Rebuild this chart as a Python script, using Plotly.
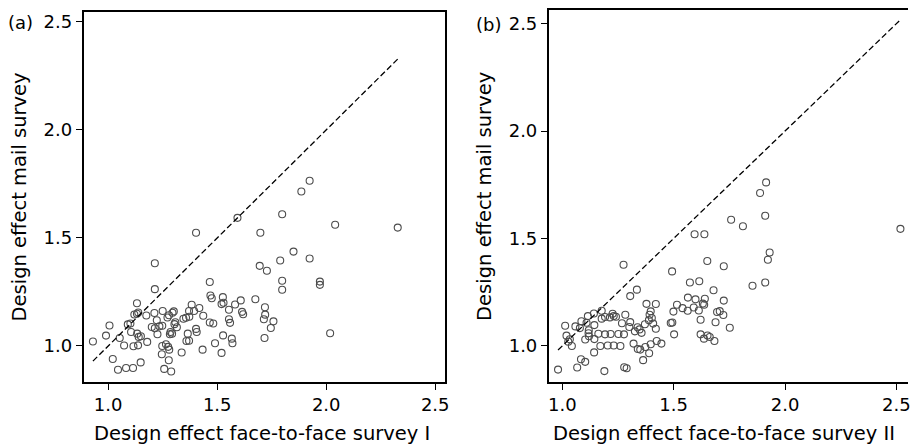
import plotly.graph_objects as go

# Panel (a): face-to-face survey I vs mail survey
xa = [1.593,1.403,1.698,1.214,1.695,1.728,1.466,1.214,1.469,1.475,1.526,1.608,1.675,1.529,1.520,1.582,
      1.132,1.383,1.418,1.371,1.394,1.554,1.301,1.295,1.250,1.212,1.120,1.138,1.175,1.279,1.272,1.357,
      1.372,1.345,1.436,1.614,1.619,1.719,1.714,1.720,1.554,1.559,1.466,1.482,1.403,1.406,1.308,1.304,
      1.315,1.286,1.283,1.293,1.223,1.200,1.214,1.235,1.226,1.248,1.102,1.090,1.132,1.006,0.990,1.053,
      1.105,1.133,1.140,1.150,1.073,1.116,1.137,1.179,0.930,1.248,1.265,1.275,1.280,1.246,1.278,1.337,
      1.359,1.371,1.433,1.490,1.520,1.527,1.567,1.570,1.717,1.746,1.021,1.045,1.082,1.114,1.149,1.257,
      1.289,1.365,1.924,1.886,1.798,2.041,2.328,1.850,1.789,1.924,1.798,1.798,1.971,1.971,1.758,2.018]
ya = [1.593,1.524,1.524,1.383,1.371,1.348,1.296,1.263,1.234,1.221,1.226,1.211,1.216,1.200,1.194,1.192,
      1.198,1.191,1.176,1.162,1.162,1.168,1.160,1.154,1.162,1.153,1.146,1.155,1.141,1.142,1.132,1.131,
      1.135,1.126,1.140,1.158,1.147,1.179,1.124,1.145,1.124,1.107,1.109,1.104,1.079,1.065,1.110,1.101,
      1.087,1.065,1.054,1.057,1.119,1.088,1.082,1.091,1.054,1.094,1.104,1.100,1.149,1.095,1.048,1.037,
      1.065,1.057,1.042,1.045,1.002,0.999,1.003,1.019,1.021,1.000,1.008,0.996,0.983,0.962,0.934,0.970,
      1.023,1.024,0.983,1.013,0.968,1.049,1.034,1.013,1.037,1.083,0.940,0.890,0.898,0.898,0.924,0.894,
      0.882,1.057,1.765,1.715,1.610,1.561,1.548,1.437,1.396,1.405,1.302,1.260,1.298,1.283,1.114,1.059]

# Panel (b): face-to-face survey II vs mail survey
xb = [1.594,1.638,1.275,1.651,1.493,1.725,1.573,1.615,1.335,1.305,1.679,1.564,1.598,1.640,1.631,1.590,
      1.637,1.725,1.378,1.420,1.515,1.540,1.563,1.499,1.613,1.695,1.707,1.723,1.621,1.688,1.397,1.392,
      1.402,1.408,1.420,1.389,1.494,1.487,1.502,1.371,1.347,1.338,1.356,1.326,1.301,1.305,1.283,1.268,
      1.252,1.277,1.217,1.192,1.162,1.144,1.120,1.103,1.119,1.144,1.086,1.059,1.013,1.019,1.034,1.043,
      1.027,1.142,1.177,1.177,1.192,1.214,1.226,1.231,1.241,1.115,1.109,1.079,1.118,1.171,1.204,1.231,
      1.261,1.320,1.339,1.350,1.373,1.397,1.424,1.445,1.390,1.363,1.278,1.289,1.189,1.067,1.103,1.143,
      1.084,0.981,1.621,1.636,1.652,1.662,1.683,1.752,1.915,1.888,1.758,1.811,1.911,2.518,1.931,1.923,
      1.854,1.911]
yb = [1.520,1.520,1.378,1.395,1.347,1.371,1.295,1.301,1.262,1.232,1.259,1.225,1.217,1.220,1.197,1.179,
      1.192,1.211,1.196,1.195,1.192,1.176,1.164,1.160,1.165,1.158,1.162,1.144,1.122,1.110,1.161,1.145,
      1.130,1.104,1.080,1.120,1.109,1.107,1.054,1.101,1.077,1.087,1.061,1.068,1.088,1.111,1.145,1.106,
      1.056,1.054,1.056,1.054,1.057,1.032,1.045,1.030,1.073,1.097,1.115,1.091,1.094,1.048,1.031,1.000,
      1.020,1.151,1.164,1.127,1.135,1.133,1.150,1.139,1.136,1.139,1.108,1.083,1.059,1.000,1.002,1.002,
      1.000,1.011,0.986,0.983,0.995,1.008,1.023,1.011,0.966,0.934,0.901,0.896,0.883,0.900,0.926,0.970,
      0.938,0.890,1.054,1.034,1.049,1.042,1.023,1.085,1.761,1.712,1.587,1.557,1.606,1.545,1.435,1.401,
      1.280,1.295]

tick_vals = [1.0, 1.5, 2.0, 2.5]
tick_text = ["1.0", "1.5", "2.0", "2.5"]
panel_labels = ["(a)", "(b)"]
x_titles = ["Design effect face-to-face survey I", "Design effect face-to-face survey II"]
y_title = "Design effect mail survey"

W, H = 912, 448
FONT = "DejaVu Sans, Liberation Sans, Arial, sans-serif"
mk = dict(symbol="circle-open", size=7, color="#4d4d4d", line=dict(width=1.1, color="#4d4d4d"))

fig = go.Figure()
fig.add_trace(go.Scatter(x=xa, y=ya, mode="markers", marker=mk, xaxis="x", yaxis="y", showlegend=False))
fig.add_trace(go.Scatter(x=[min(xa), max(xa)], y=[min(xa), max(xa)], mode="lines",
                         line=dict(color="black", width=1.3, dash="6px,3px"),
                         xaxis="x", yaxis="y", showlegend=False))
fig.add_trace(go.Scatter(x=xb, y=yb, mode="markers", marker=mk, xaxis="x2", yaxis="y2", showlegend=False))
fig.add_trace(go.Scatter(x=[min(xb), max(xb)], y=[min(xb), max(xb)], mode="lines",
                         line=dict(color="black", width=1.3, dash="6px,3px"),
                         xaxis="x2", yaxis="y2", showlegend=False))

def px(v):
    return v / W

def py(v):
    return 1 - v / H

common = dict(showgrid=False, zeroline=False, showline=True, linecolor="black", linewidth=1.5,
              ticks="outside", ticklen=6, tickwidth=1, tickcolor="black",
              tickvals=tick_vals, ticktext=tick_text,
              tickfont=dict(family=FONT, size=18, color="black"))

fig.update_layout(
    width=W, height=H,
    margin=dict(l=0, r=0, t=0, b=0),
    paper_bgcolor="white", plot_bgcolor="white",
    xaxis=dict(domain=[px(83), px(446.7)], range=[0.887, 2.546], anchor="y", mirror=True, **common),
    yaxis=dict(domain=[py(381.7), py(11)], range=[0.834, 2.546], anchor="x", mirror=True, **common),
    xaxis2=dict(domain=[px(550.7), 1.0], range=[0.939, 2.552], anchor="y2", mirror=True, **common),
    yaxis2=dict(domain=[py(381.7), py(9.3)], range=[0.833, 2.562], anchor="x2", mirror=False, **common),
)

TF = dict(family=FONT, size=19.5, color="black")
ann = []
for cx, t in zip([px(262), px(727)], x_titles):
    ann.append(dict(x=cx, y=py(433), xref="paper", yref="paper", text=t, showarrow=False,
                    xanchor="center", yanchor="middle", font=TF))
for cx in [px(19), px(486)]:
    ann.append(dict(x=cx, y=py(196), xref="paper", yref="paper", text=y_title, showarrow=False,
                    textangle=-90, xanchor="center", yanchor="middle", font=TF))
for (cx, cy), t in zip([(px(20), py(22)), (px(490), py(24))], panel_labels):
    ann.append(dict(x=cx, y=cy, xref="paper", yref="paper", text=t, showarrow=False,
                    xanchor="center", yanchor="middle", font=dict(family=FONT, size=18, color="black")))
fig.update_layout(annotations=ann)

fig.write_html("out.html")
